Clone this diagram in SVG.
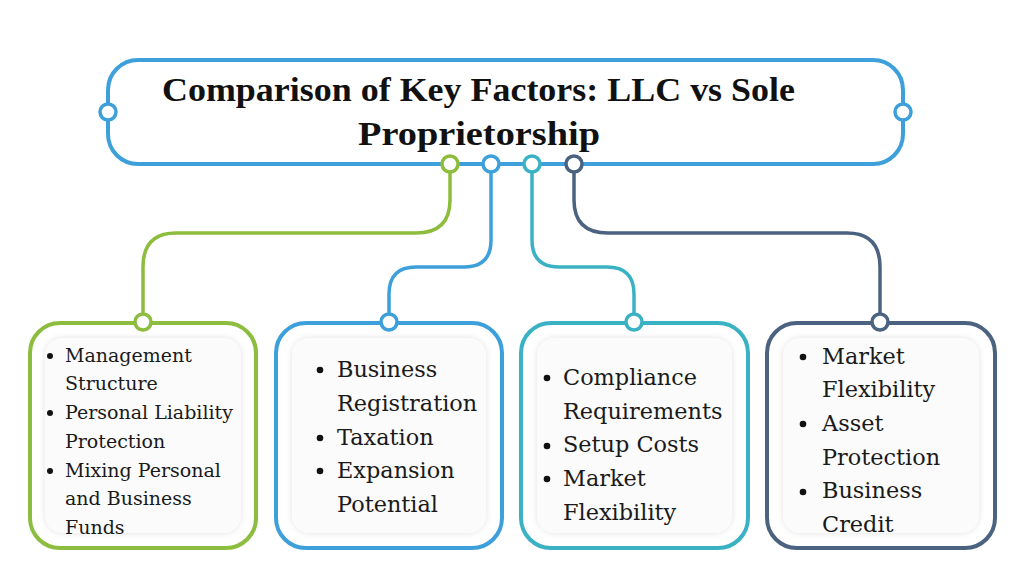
<svg xmlns="http://www.w3.org/2000/svg" width="1024" height="576" viewBox="0 0 1024 576">
<defs>
<filter id="sh" x="-10%" y="-10%" width="120%" height="120%">
<feGaussianBlur in="SourceAlpha" stdDeviation="3"/>
<feOffset dx="0" dy="0" result="b"/>
<feFlood flood-color="#000" flood-opacity="0.12"/>
<feComposite in2="b" operator="in"/>
<feMerge><feMergeNode/><feMergeNode in="SourceGraphic"/></feMerge>
</filter>
</defs>
<style>
.title{font-family:"Liberation Serif",serif;font-weight:bold;font-size:33px;fill:#111;}
.t1{font-family:"DejaVu Serif",serif;font-size:19px;fill:#1a1a1a;}
.t2{font-family:"DejaVu Serif",serif;font-size:22.4px;fill:#1a1a1a;}
.box{fill:#fff;stroke-width:4;}
.inner{fill:#fbfbfb;filter:url(#sh);}
.dot{fill:#fff;stroke-width:3.5;}
.con{fill:none;stroke-width:3.5;}
.g{stroke:#8DBD3E;}
.b{stroke:#3DA0DB;}
.c{stroke:#3BB2C4;}
.s{stroke:#4B6380;}
.bul{fill:#111;}
</style>
<rect width="1024" height="576" fill="#fff"/>
<g id="connectors">
<path class="con g" d="M450,172 V200 Q450,233 416,233 H176 Q143,233 143,267 V314"/>
<path class="con b" d="M491,172 V240 Q491,267 464,267 H416 Q389,267 389,294 V314"/>
<path class="con c" d="M532,172 V240 Q532,267 559,267 H607 Q634,267 634,294 V314"/>
<path class="con s" d="M574,172 V200 Q574,233 608,233 H847 Q880,233 880,267 V314"/>
</g>
<g id="title">
<rect class="box b" x="108" y="60" width="795" height="104" rx="30"/>
<circle class="dot b" cx="108" cy="112" r="8"/>
<circle class="dot b" cx="903" cy="112" r="8"/>
<circle class="dot g" cx="450" cy="164" r="8"/>
<circle class="dot b" cx="491" cy="164" r="8"/>
<circle class="dot c" cx="532" cy="164" r="8"/>
<circle class="dot s" cx="574" cy="164" r="8"/>
<text class="title" x="162" y="101" textLength="633" lengthAdjust="spacingAndGlyphs">Comparison of Key Factors: LLC vs Sole</text>
<text class="title" x="358" y="145" textLength="242" lengthAdjust="spacingAndGlyphs">Proprietorship</text>
</g>
<g id="box1">
<rect class="box g" x="30" y="323" width="226" height="225" rx="30"/>
<rect class="inner" x="45" y="338" width="196" height="195" rx="18"/>
<circle class="dot g" cx="143" cy="322" r="8"/>
<circle class="bul" cx="50" cy="356" r="3"/><circle class="bul" cx="50" cy="413" r="3"/><circle class="bul" cx="50" cy="471" r="3"/>
<text class="t1" x="65" y="362">Management</text>
<text class="t1" x="65" y="390">Structure</text>
<text class="t1" x="65" y="419">Personal Liability</text>
<text class="t1" x="65" y="448">Protection</text>
<text class="t1" x="65" y="477">Mixing Personal</text>
<text class="t1" x="65" y="505">and Business</text>
<text class="t1" x="65" y="534">Funds</text>
</g>
<g id="box2">
<rect class="box b" x="276" y="323" width="226" height="225" rx="30"/>
<rect class="inner" x="292" y="338" width="194" height="195" rx="18"/>
<circle class="dot b" cx="389" cy="322" r="8"/>
<circle class="bul" cx="320" cy="370" r="3.3"/><circle class="bul" cx="320" cy="438" r="3.3"/><circle class="bul" cx="320" cy="471" r="3.3"/>
<text class="t2" x="337" y="377">Business</text>
<text class="t2" x="337" y="411">Registration</text>
<text class="t2" x="337" y="445">Taxation</text>
<text class="t2" x="337" y="478">Expansion</text>
<text class="t2" x="337" y="512">Potential</text>
</g>
<g id="box3">
<rect class="box c" x="521" y="323" width="227" height="225" rx="30"/>
<rect class="inner" x="537" y="338" width="195" height="195" rx="18"/>
<circle class="dot c" cx="634" cy="322" r="8"/>
<circle class="bul" cx="547" cy="378" r="3.3"/><circle class="bul" cx="547" cy="446" r="3.3"/><circle class="bul" cx="547" cy="479" r="3.3"/>
<text class="t2" x="563" y="385">Compliance</text>
<text class="t2" x="563" y="419">Requirements</text>
<text class="t2" x="563" y="452">Setup Costs</text>
<text class="t2" x="563" y="486">Market</text>
<text class="t2" x="563" y="520">Flexibility</text>
</g>
<g id="box4">
<rect class="box s" x="767" y="323" width="228" height="225" rx="30"/>
<rect class="inner" x="783" y="338" width="196" height="195" rx="18"/>
<circle class="dot s" cx="880" cy="322" r="8"/>
<circle class="bul" cx="803" cy="357" r="3.3"/><circle class="bul" cx="803" cy="424" r="3.3"/><circle class="bul" cx="803" cy="492" r="3.3"/>
<text class="t2" x="822" y="364">Market</text>
<text class="t2" x="822" y="397">Flexibility</text>
<text class="t2" x="822" y="431">Asset</text>
<text class="t2" x="822" y="465">Protection</text>
<text class="t2" x="822" y="498">Business</text>
<text class="t2" x="822" y="532">Credit</text>
</g>
</svg>
